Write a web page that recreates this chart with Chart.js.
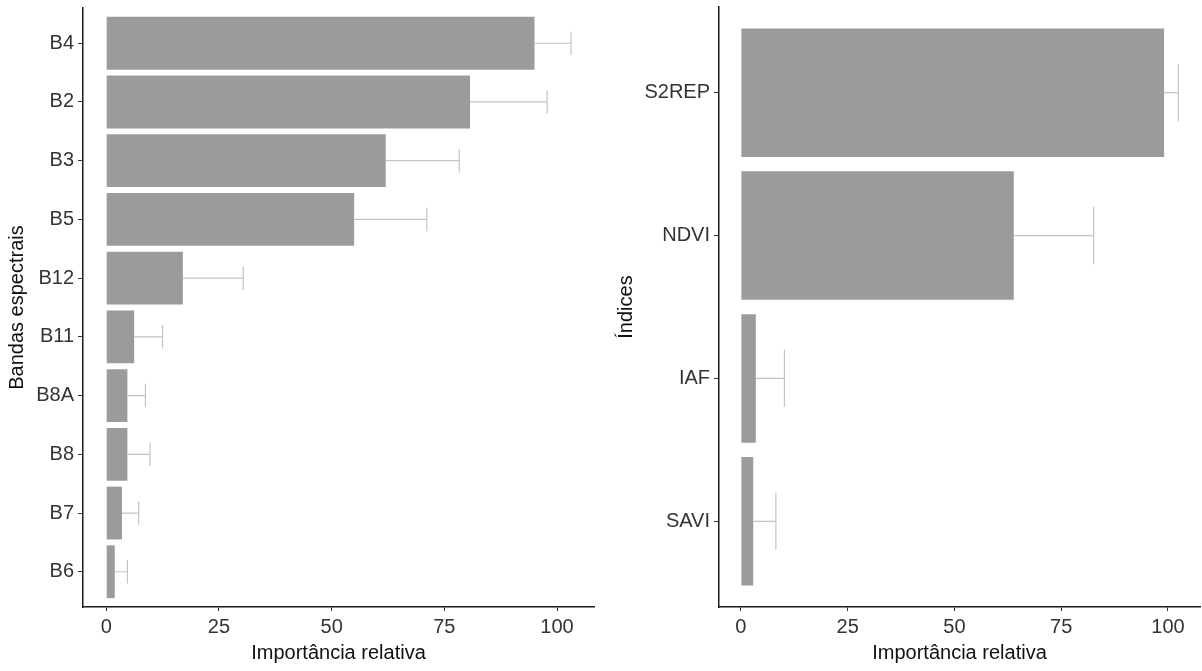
<!DOCTYPE html>
<html>
<head>
<meta charset="utf-8">
<script src="https://cdn.jsdelivr.net/npm/chart.js@4"></script>
<style>
  html, body { margin: 0; padding: 0; background: #fff; }
  #wrap { position: relative; width: 1202px; height: 671px; }
  .panel { position: absolute; top: 0; height: 671px; }
  #left { left: 0; width: 600px; }
  #right { left: 600px; width: 602px; }
</style>
</head>
<body>
<div id="wrap">
  <div class="panel" id="left"><canvas id="bandsChart"></canvas></div>
  <div class="panel" id="right"><canvas id="indexChart"></canvas></div>
</div>
<script>
'use strict';
// spectral bands, top to bottom
let bandLabels = ['B4', 'B2', 'B3', 'B5', 'B12', 'B11', 'B8A', 'B8', 'B7', 'B6'];
let bandValues = [95.0, 80.7, 62.0, 55.0, 17.0, 6.2, 4.7, 4.7, 3.5, 1.9];
let bandErrors = [8.1, 17.1, 16.3, 16.1, 13.4, 6.3, 4.0, 5.0, 3.7, 2.8];

// vegetation indices, top to bottom
let indexLabels = ['S2REP', 'NDVI', 'IAF', 'SAVI'];
let indexValues = [99.1, 63.9, 3.5, 2.9];
let indexErrors = [3.3, 18.7, 6.7, 5.3];

let xTicks = [0, 25, 50, 75, 100];

let fontFamily = '"Liberation Sans", Arial, sans-serif';
Chart.defaults.font.family = fontFamily;

// draws the +sd whisker for each bar
let errorBars = {
    id: 'errorBars',
    afterDatasetsDraw(chart) {
        let ds = chart.data.datasets[0];
        let xScale = chart.scales.x;
        let yScale = chart.scales.y;
        let half = Math.abs(yScale.getPixelForValue(1) - yScale.getPixelForValue(0)) * 0.2;
        let ctx = chart.ctx;
        ctx.save();
        ctx.strokeStyle = '#c4c4c4';
        ctx.lineWidth = 1.2;
        ds.data.forEach((d, i) => {
            let x0 = xScale.getPixelForValue(d.x);
            let x1 = xScale.getPixelForValue(d.x + ds.errors[i]);
            let y = yScale.getPixelForValue(d.y);
            ctx.beginPath();
            ctx.moveTo(x0, y);
            ctx.lineTo(x1, y);
            ctx.moveTo(x1, y - half);
            ctx.lineTo(x1, y + half);
            ctx.stroke();
        });
        ctx.restore();
    }
};

function makeChart(canvasId, labels, values, errors, yTitle, opts) {
    let ctx = document.getElementById(canvasId).getContext('2d');
    return new Chart(ctx, {
        type: 'bar',
        data: {
            datasets: [{
                data: values.map((v, i) => ({ x: v, y: i })),
                errors: errors,
                backgroundColor: '#9b9b9b',
                borderWidth: 0,
                categoryPercentage: 1,
                barPercentage: 0.9
            }]
        },
        options: {
            indexAxis: 'y',
            responsive: true,
            maintainAspectRatio: false,
            animation: false,
            layout: { padding: opts.padding },
            plugins: { legend: { display: false }, tooltip: { enabled: false } },
            scales: {
                y: {
                    type: 'linear',
                    reverse: true,
                    offset: false,
                    min: -0.6,
                    max: labels.length - 0.4,
                    afterBuildTicks: (axis) => { axis.ticks = labels.map((l, i) => ({ value: i })); },
                    afterFit: (axis) => {
                        axis.width = opts.yWidth;
                        axis.paddingTop = 0;
                        axis.paddingBottom = 0;
                    },
                    ticks: {
                        callback: (v) => labels[v],
                        color: '#333',
                        font: { size: 20 },
                        padding: 4,
                        autoSkip: false
                    },
                    grid: { offset: false, drawOnChartArea: false, tickLength: 5, tickColor: '#333' },
                    border: { color: '#1a1a1a', width: 1.5 },
                    title: {
                        display: true,
                        text: yTitle,
                        color: '#111',
                        font: { size: 20, lineHeight: 1 },
                        padding: { top: opts.titlePad, bottom: 0 }
                    }
                },
                x: {
                    type: 'linear',
                    min: opts.xMin,
                    max: opts.xMax,
                    afterBuildTicks: (axis) => { axis.ticks = xTicks.map(v => ({ value: v })); },
                    afterFit: (axis) => { axis.height = 64; },
                    ticks: { color: '#333', font: { size: 20 }, padding: 4 },
                    grid: { drawOnChartArea: false, tickLength: 4, tickColor: '#333' },
                    border: { color: '#1a1a1a', width: 1.5 },
                    title: {
                        display: true,
                        text: 'Importância relativa',
                        color: '#111',
                        font: { size: 20, lineHeight: 1 },
                        padding: { top: 0, bottom: 8 }
                    }
                }
            }
        },
        plugins: [errorBars]
    });
}

makeChart('bandsChart', bandLabels, bandValues, bandErrors, 'Bandas espectrais', {
    padding: { left: 0, top: 8, right: 6, bottom: 0 },
    yWidth: 83,
    titlePad: 7,
    xMin: -5.15,
    xMax: 108.2
});

makeChart('indexChart', indexLabels, indexValues, indexErrors, 'Índices', {
    padding: { left: 0, top: 7, right: 2, bottom: 0 },
    yWidth: 119,
    titlePad: 16,
    xMin: -5.12,
    xMax: 107.5
});
</script>
</body>
</html>
